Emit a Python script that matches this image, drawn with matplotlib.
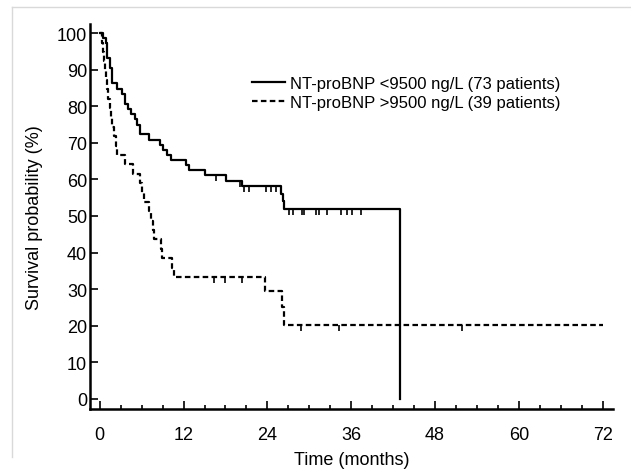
import numpy as np
import matplotlib.pyplot as plt
from matplotlib.lines import Line2D
from matplotlib.ticker import MultipleLocator

plt.rcParams['font.family'] = ['Liberation Sans', 'DejaVu Sans']

# Kaplan-Meier steps (time in months, survival %)
low_t = [0, 0.4, 0.9, 1.1, 1.4, 1.8, 2.4, 3.2, 3.6, 4.0, 4.5, 5.0, 5.4, 5.7,
         7.1, 8.6, 9.0, 9.6, 10.2, 12.3, 12.8, 15.1, 18.1, 20.3, 26.0, 26.2,
         26.4, 43.0]
low_s = [100, 98.6, 97.2, 93.2, 90.5, 86.5, 84.8, 83.4, 80.6, 79.2, 77.8, 76.4,
         75.0, 72.3, 70.9, 69.5, 68.1, 66.7, 65.3, 63.9, 62.5, 61.1, 59.7, 58.2,
         56.0, 54.0, 52.0, 0]
low_cens_t = [16.7, 20.1, 20.7, 21.4, 23.8, 24.5, 25.2, 27.1, 27.6, 28.9, 29.3,
              31.0, 31.4, 32.6, 34.6, 35.4, 36.1, 37.4]

high_t = [0, 0.3, 0.5, 0.6, 0.8, 0.9, 1.1, 1.2, 1.4, 1.6, 1.8, 2.1, 2.3, 2.5,
          3.6, 4.7, 5.8, 6.0, 6.3, 7.1, 7.4, 7.6, 7.7, 8.8, 8.9, 10.3, 10.7,
          23.6, 26.1, 26.4, 72]
high_s = [100, 97.4, 94.9, 92.3, 89.7, 87.2, 84.6, 82.1, 79.5, 76.9, 74.4, 71.8,
          69.2, 66.7, 64.1, 61.5, 59.0, 56.4, 53.8, 51.3, 48.7, 46.2, 43.6, 41.0,
          38.5, 35.9, 33.3, 29.6, 25.0, 20.2, 20.2]
high_cens_t = [16.4, 17.9, 20.4, 28.8, 34.3, 51.9]

labels = ['NT-proBNP <9500 ng/L (73 patients)',
          'NT-proBNP >9500 ng/L (39 patients)']


def surv_at(ts, ss, x):
    i = np.searchsorted(ts, x, side='right') - 1
    return ss[i]


fig = plt.figure(figsize=(6.31, 4.77), dpi=100)
ax = fig.add_axes([0.1426, 0.1405, 0.829, 0.807])

ax.step(low_t, low_s, where='post', color='black', lw=1.6)
ax.step(high_t, high_s, where='post', color='black', lw=1.6, dashes=(2.5, 1.5))

ax.plot(low_cens_t, [surv_at(low_t, low_s, t) for t in low_cens_t],
        ls='none', marker=3, ms=4, mew=1.2, color='black')
ax.plot(high_cens_t, [surv_at(high_t, high_s, t) for t in high_cens_t],
        ls='none', marker=3, ms=4, mew=1.2, color='black')

ax.set_xlim(-1.4, 73.5)
ax.set_ylim(-2.8, 102.5)
ax.xaxis.set_major_locator(MultipleLocator(12))
ax.xaxis.set_minor_locator(MultipleLocator(3))
ax.yaxis.set_major_locator(MultipleLocator(10))

for s in ['top', 'right']:
    ax.spines[s].set_visible(False)
for s in ['left', 'bottom']:
    ax.spines[s].set_linewidth(1.8)

ax.tick_params(axis='x', which='major', direction='in', length=6, width=1.2,
               pad=12, labelsize=13)
ax.tick_params(axis='x', which='minor', direction='in', length=3, width=1.2)
ax.tick_params(axis='y', which='major', direction='in', length=6, width=1.2,
               pad=2, labelsize=13)

ax.set_xlabel('Time (months)', fontsize=13, labelpad=6)
ax.set_ylabel('Survival probability (%)', fontsize=13, labelpad=10)

handles = [Line2D([], [], color='black', lw=1.6),
           Line2D([], [], color='black', lw=1.6, dashes=(2.5, 1.5))]
ax.legend(handles, labels, loc='upper left', bbox_to_anchor=(0.31, 0.865),
          frameon=False, fontsize=12, handlelength=2.0, handletextpad=0.3,
          labelspacing=0.25, borderpad=0, borderaxespad=0)

# light frame around the figure (top and left only)
fig.add_artist(Line2D([12 / 631, 1], [1 - 8 / 477, 1 - 8 / 477],
                      color='#d9d9d9', lw=1))
fig.add_artist(Line2D([12 / 631, 12 / 631], [1 - 8 / 477, 1 - 458 / 477],
                      color='#d9d9d9', lw=1))

plt.savefig('out.png', dpi=100)
